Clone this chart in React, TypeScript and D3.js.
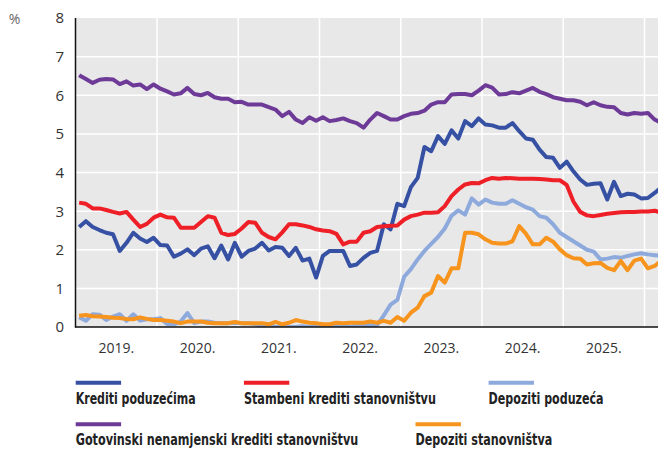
import React from "react";
import * as d3 from "d3";

const yearLabels = ["2019.", "2020.", "2021.", "2022.", "2023.", "2024.", "2025."];
const yTicks = [0, 1, 2, 3, 4, 5, 6, 7, 8];

const kreditiPoduzecima = [
  2.59, 2.74, 2.59, 2.51, 2.44, 2.4, 1.97, 2.18, 2.44, 2.29, 2.2, 2.31, 2.12, 2.11, 1.82, 1.9, 2.01, 1.86, 2.03, 2.09, 1.78, 2.11, 1.75, 2.18, 1.82, 1.97, 2.03, 2.18, 1.98, 2.07,
  2.05, 1.84, 2.05, 1.72, 1.77, 1.28, 1.84, 1.97, 1.97, 1.97, 1.58, 1.62, 1.79, 1.92, 1.97, 2.66, 2.53, 3.19, 3.13, 3.62, 3.86, 4.66, 4.55, 4.94, 4.74, 5.09, 4.88, 5.33, 5.2,
  5.4, 5.24, 5.22, 5.16, 5.16, 5.28, 5.07, 4.88, 4.85, 4.59, 4.4, 4.38, 4.12, 4.28, 4.03, 3.82, 3.68, 3.71, 3.72, 3.3, 3.76, 3.39, 3.45, 3.43, 3.33, 3.34, 3.47, 3.62,
];
const stambeniKrediti = [
  3.22, 3.19, 3.07, 3.07, 3.03, 2.98, 2.94, 2.98, 2.78, 2.59, 2.67, 2.83, 2.91, 2.84, 2.83, 2.57, 2.57, 2.57, 2.72, 2.87, 2.83, 2.44, 2.38, 2.41, 2.55, 2.72, 2.7, 2.44, 2.33, 2.27,
  2.45, 2.66, 2.66, 2.63, 2.59, 2.53, 2.5, 2.48, 2.41, 2.14, 2.21, 2.21, 2.44, 2.48, 2.59, 2.61, 2.62, 2.63, 2.78, 2.87, 2.91, 2.96, 2.96, 2.97, 3.13, 3.39, 3.56, 3.69, 3.73,
  3.72, 3.8, 3.86, 3.84, 3.86, 3.85, 3.84, 3.84, 3.84, 3.83, 3.82, 3.8, 3.8, 3.68, 3.25, 2.98, 2.89, 2.87, 2.9, 2.93, 2.95, 2.97, 2.98, 2.98, 2.99, 2.99, 3.01, 2.96,
];
const depozitiPoduzeca = [
  0.25, 0.16, 0.33, 0.32, 0.18, 0.27, 0.33, 0.16, 0.33, 0.17, 0.2, 0.2, 0.23, 0.08, 0.07, 0.14, 0.36, 0.1, 0.14, 0.14, 0.11, 0.1, 0.1, 0.11, 0.1, 0.1, 0.08, 0.02, 0.08, 0.0,
  0.0, 0.0, 0.0, 0.02, 0.0, 0.0, 0.0, 0.03, 0.0, 0.02, 0.0, 0.03, 0.05, 0.05,
  0.05, 0.3, 0.58, 0.7, 1.3, 1.5, 1.75, 1.97, 2.15, 2.33, 2.55, 2.88, 3.02,
  2.91, 3.33, 3.17, 3.3, 3.22, 3.19, 3.19, 3.28, 3.19, 3.1, 3.04, 2.87, 2.83, 2.66, 2.44, 2.33, 2.22, 2.11, 2.0, 1.95, 1.75, 1.77, 1.81, 1.79, 1.84, 1.88, 1.91, 1.88, 1.86, 1.84,
];
const gotovinskiKrediti = [
  6.52, 6.42, 6.32, 6.4, 6.42, 6.41, 6.29, 6.36, 6.25, 6.28, 6.16, 6.28, 6.17, 6.1, 6.02, 6.05, 6.19, 6.03, 6.0, 6.06, 5.95, 5.91, 5.91, 5.82, 5.83, 5.76, 5.76, 5.76, 5.69, 5.63,
  5.46, 5.57, 5.37, 5.28, 5.43, 5.34, 5.43, 5.33, 5.36, 5.4, 5.33, 5.28, 5.16, 5.37, 5.54, 5.46, 5.37, 5.37, 5.46, 5.52, 5.54, 5.6, 5.76, 5.82, 5.82, 6.02, 6.03, 6.03, 6.0,
  6.12, 6.26, 6.2, 6.02, 6.03, 6.08, 6.05, 6.12, 6.19, 6.09, 6.03, 5.95, 5.91, 5.87, 5.87, 5.83, 5.74, 5.82, 5.74, 5.7, 5.69, 5.54, 5.5, 5.54, 5.52, 5.54, 5.37, 5.28,
];
const depozitiStanovnistva = [
  0.29, 0.31, 0.28, 0.27, 0.26, 0.24, 0.23, 0.21, 0.2, 0.25, 0.21, 0.18, 0.18, 0.16, 0.14, 0.1, 0.14, 0.14, 0.14, 0.11, 0.1, 0.1, 0.1, 0.13, 0.1, 0.1, 0.1, 0.1, 0.07, 0.13,
  0.07, 0.11, 0.18, 0.14, 0.11, 0.1, 0.07, 0.07, 0.11, 0.1, 0.11, 0.11, 0.11, 0.14,
  0.11, 0.16, 0.11, 0.26, 0.16, 0.37, 0.5, 0.8, 0.89, 1.32, 1.15, 1.52, 1.52,
  2.44, 2.44, 2.4, 2.27, 2.18, 2.16, 2.16, 2.22, 2.61, 2.41, 2.14, 2.14, 2.31, 2.21, 2.01, 1.86, 1.78, 1.77, 1.62, 1.65, 1.66, 1.53, 1.47, 1.71, 1.47, 1.72, 1.77, 1.52, 1.58, 1.72,
];

const series = [
  { name: "Krediti poduzećima", values: kreditiPoduzecima, color: "#3651a3" },
  { name: "Stambeni krediti stanovništvu", values: stambeniKrediti, color: "#ee1f26" },
  { name: "Depoziti poduzeća", values: depozitiPoduzeca, color: "#8eaadc" },
  { name: "Gotovinski nenamjenski krediti stanovništvu", values: gotovinskiKrediti, color: "#6e3a98" },
  { name: "Depoziti stanovništva", values: depozitiStanovnistva, color: "#f7941d" },
];

const legendItems = [
  { s: 0, x: 75.7, row: 0, w: 120 },
  { s: 1, x: 243.9, row: 0, w: 192 },
  { s: 2, x: 488.6, row: 0, w: 115 },
  { s: 3, x: 75.7, row: 1, w: 282.6 },
  { s: 4, x: 415.5, row: 1, w: 136.7 },
];

const W = 658;
const H = 466;
const left = 75.5;
const top = 18;
const bottom = 327;
const right = 658;

export default function App() {
  const x = d3.scaleLinear().domain([-0.5, 83.5]).range([75.75, 644.5]);
  const y = d3.scaleLinear().domain([0, 8]).range([bottom, top]);
  const line = d3
    .line<number>()
    .x((_, i) => x(i))
    .y((d) => y(d));
  const yearBounds = yearLabels.map((_, k) => 12 * (k + 1) - 0.5);

  return (
    <svg
      width={W}
      height={H}
      style={{ position: "absolute", left: 0, top: 0, background: "#fff" }}
      fontFamily="'Open Sans', sans-serif"
    >
      <defs>
        <clipPath id="plotClip">
          <rect x={left} y={top} width={right - left} height={bottom - top} />
        </clipPath>
      </defs>
      <rect x={left} y={top} width={right - left} height={bottom - top} fill="#e8e8e8" />
      {yTicks.filter((t) => t > 0 && t < 8).map((t) => (
        <line key={"g" + t} x1={left} x2={right} y1={y(t)} y2={y(t)} stroke="#fff" strokeWidth={1.5} />
      ))}
      {yearBounds.map((b) => (
        <line key={"v" + b} x1={x(b)} x2={x(b)} y1={top} y2={bottom} stroke="#fff" strokeWidth={1.5} />
      ))}
      <g clipPath="url(#plotClip)">
        {series.map((s) => (
          <path
            key={s.name}
            d={line(s.values) || ""}
            fill="none"
            stroke={s.color}
            strokeWidth={4}
            strokeLinejoin="round"
            strokeLinecap="butt"
          />
        ))}
      </g>
      <line x1={left} x2={left} y1={top} y2={bottom + 0.75} stroke="#111" strokeWidth={1.5} />
      <line x1={left} x2={right} y1={bottom} y2={bottom} stroke="#111" strokeWidth={1.5} />
      {yTicks.map((t) => (
        <text key={"yt" + t} x={64} y={y(t)} dy="0.36em" textAnchor="end" fontSize={15} fill="#333">
          {t}
        </text>
      ))}
      <text x={14.5} y={18.5} dy="0.36em" textAnchor="middle" fontSize={14} fill="#666">
        %
      </text>
      {yearLabels.map((l, k) => (
        <text key={l} x={x(12 * k + 5.5)} y={353.3} textAnchor="middle" fontSize={14} fill="#333">
          {l}
        </text>
      ))}
      {legendItems.map((it) => {
        const s = series[it.s];
        const sy = it.row === 0 ? 382.7 : 424.3;
        const ty = it.row === 0 ? 404 : 445;
        return (
          <g key={s.name}>
            <line x1={it.x} x2={it.x + 45.4} y1={sy} y2={sy} stroke={s.color} strokeWidth={4} />
            <text
              x={it.x}
              y={ty}
              fontFamily="'Liberation Sans Narrow', 'DejaVu Sans Condensed', sans-serif"
              fontWeight={700}
              fontSize={15}
              fill="#222"
              textLength={it.w}
              lengthAdjust="spacingAndGlyphs"
            >
              {s.name}
            </text>
          </g>
        );
      })}
    </svg>
  );
}
